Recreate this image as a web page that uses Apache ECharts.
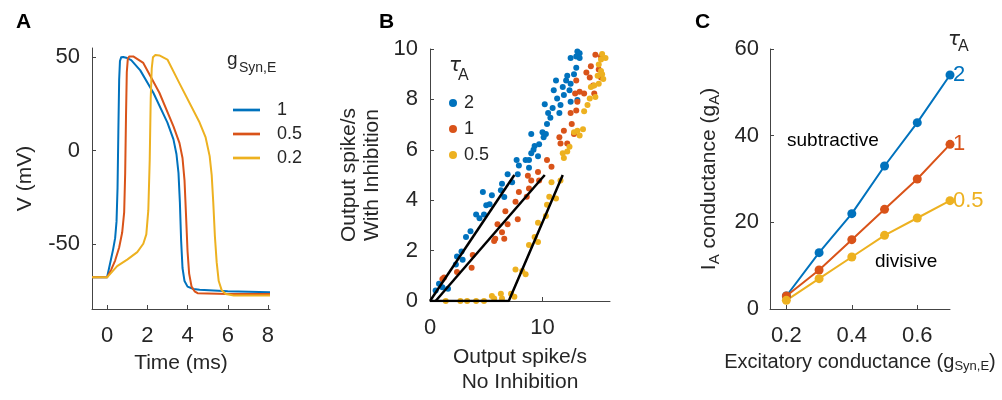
<!DOCTYPE html>
<html>
<head>
<meta charset="utf-8">
<script src="https://cdn.jsdelivr.net/npm/echarts@6/dist/echarts.min.js"></script>
<style>
  html, body { margin: 0; padding: 0; background: #fff; }
  #chart { width: 1002px; height: 400px; }
</style>
</head>
<body>
<div id="chart"></div>
<script>
// panel A: membrane voltage traces
const tG1 = [-0.75, 0, 0.1, 0.2, 0.3, 0.4, 0.47, 0.52, 0.56, 0.6, 0.64, 0.7, 0.8, 0.95, 1.2, 1.65, 2.3, 3.0, 3.3, 3.45, 3.55, 3.62, 3.68, 3.75, 3.85, 4.0, 4.3, 4.6, 6, 8.1]
const vG1 = [-68, -68, -63, -58, -53, -47, -38, -20, 10, 38, 48, 50, 50.2, 49.8, 48.5, 43, 31, 15, 6, -2, -12, -28, -48, -63, -70, -73, -74.3, -74.7, -75.5, -76]
const tG05 = [-0.75, 0, 0.2, 0.4, 0.6, 0.75, 0.85, 0.9, 0.94, 0.98, 1.03, 1.1, 1.3, 1.8, 2.6, 3.3, 3.6, 3.75, 3.85, 3.93, 4.0, 4.08, 4.2, 4.35, 4.5, 6, 8.1]
const vG05 = [-68, -68, -64, -59, -52, -44, -33, -12, 18, 42, 49, 50.5, 50.5, 47, 31, 13, 4, -4, -16, -36, -54, -66, -73, -75.5, -76.5, -77, -77]
const tG02 = [-0.75, 0, 0.5, 1.0, 1.5, 1.8, 1.95, 2.05, 2.12, 2.17, 2.22, 2.28, 2.4, 2.6, 3.0, 3.6, 4.6, 4.9, 5.1, 5.2, 5.28, 5.36, 5.45, 5.55, 5.7, 5.9, 6.3, 8.1]
const vG02 = [-68, -68, -62, -58.5, -54.5, -50, -45, -32, -5, 28, 44, 50, 51.2, 51, 48.8, 36, 15, 7, -3, -13, -28, -46, -60, -70, -75, -77, -77.7, -77.7]
const gLabels = ['1', '0.5', '0.2']
const timeTicks = [0, 2, 4, 6, 8]
const voltTicks = [-50, 0, 50]

// panel B: output rate with vs without inhibition
const rateTau2 = [[0.5, 0.42], [1.1, 0.55], [1.6, 0.49], [0.8, 0.68], [2.3, 1.45], [2.4, 1.77], [2.8, 1.96], [2.9, 1.64],
  [3.2, 2.54], [3.6, 2.77], [4.1, 3.43], [4.4, 3.28], [4.7, 4.33], [4.8, 3.43], [5.0, 3.8], [5.3, 3.84], [5.5, 4.2],
  [6.3, 4.39], [6.4, 4.65], [6.6, 4.13], [6.9, 5.03], [7.3, 4.71], [7.8, 5.03], [7.9, 5.38], [7.7, 5.6], [8.5, 5.6],
  [8.8, 5.29], [8.8, 5.6], [9.0, 5.86], [9.0, 6.63], [9.2, 6.0], [9.3, 6.15], [9.7, 6.22], [9.6, 5.74], [10.0, 6.7],
  [10.1, 6.5], [10.3, 6.63], [10.4, 7.02], [10.5, 7.46], [10.2, 7.81], [10.7, 7.27], [10.9, 7.66], [11.0, 8.36],
  [11.2, 8.75], [11.3, 8.04], [11.5, 7.46], [11.6, 7.78], [11.8, 8.49], [11.9, 8.17], [12.1, 8.75], [12.2, 8.94],
  [12.4, 8.36], [12.5, 7.91], [12.5, 8.62], [12.8, 9.0], [13.0, 9.26], [13.1, 9.9], [13.3, 9.83], [12.5, 9.64],
  [13.0, 9.7], [13.3, 9.64], [13.1, 7.98]]
const rateTau1 = [[1.1, 0.87], [1.25, 0.93], [2.4, 1.15], [3.7, 1.32], [3.8, 1.83], [5.7, 2.38], [5.8, 2.47], [6.0, 3.05],
  [6.4, 2.73], [6.6, 2.47], [6.7, 3.56], [6.9, 3.05], [7.6, 3.94], [7.8, 3.24], [7.9, 4.33], [8.6, 4.14], [8.8, 4.46],
  [8.7, 4.97], [9.0, 4.78], [9.6, 5.12], [9.7, 4.78], [10.4, 5.6], [10.8, 5.33], [11.5, 6.5], [11.6, 6.25], [11.9, 6.76],
  [12.2, 6.25], [12.5, 7.46], [12.6, 7.02], [12.8, 6.63], [12.9, 8.23], [13.1, 7.91], [13.0, 7.56], [13.3, 8.3],
  [13.7, 8.23], [13.9, 9.07], [14.2, 8.87], [14.3, 9.32], [14.5, 8.55], [14.6, 8.23], [14.7, 9.77], [15.2, 9.7],
  [15.0, 9.19], [15.2, 8.87], [13.0, 8.75]]
const rateTau05 = [[1.4, 0], [2.7, 0], [3.3, 0], [4.1, 0], [4.8, 0], [5.5, 0.2], [5.7, 0.1], [6.3, 0.29], [6.4, 0.1],
  [7.2, 0.29], [7.5, 0.17], [7.6, 1.25], [8.2, 1.19], [8.5, 1.06], [8.8, 2.22], [9.3, 2.54], [9.6, 2.34], [9.6, 3.11],
  [10.3, 3.37], [10.4, 3.82], [10.6, 4.14], [10.8, 4.71], [11.2, 4.07], [11.6, 4.78], [11.8, 5.86], [11.9, 5.67],
  [12.2, 5.93], [12.4, 6.12], [12.8, 6.7], [13.1, 6.76], [13.3, 6.57], [13.6, 6.82], [13.7, 7.53], [14.0, 7.78],
  [14.2, 8.04], [14.3, 8.49], [14.6, 8.55], [14.7, 8.1], [14.9, 8.94], [15.0, 8.62], [15.2, 9.13], [15.3, 9.0],
  [15.4, 8.81], [15.2, 9.58], [15.3, 9.8], [15.6, 9.64], [15.0, 9.38]]
const fitTau2 = [[0, 0], [7.5, 5]]
const fitTau1 = [[0.5, 0], [10.2, 5]]
const fitTau05 = [[0, 0], [7, 0], [11.8, 5]]
const tauLabels = ['2', '1', '0.5']
const rateXTicks = [0, 10]

// panel C: I_A conductance vs excitatory conductance
const gExc = [0.2, 0.3, 0.4, 0.5, 0.6, 0.7]
const gATau2 = [3, 13, 22, 33, 43, 54]
const gATau1 = [3, 9, 16, 23, 30, 38]
const gATau05 = [2, 7, 12, 17, 21, 25]
const gExcTicks = [0.2, 0.4, 0.6]

const colors = ['#0072BD', '#D95319', '#EDB120']
const ink = '#262626'
const font = 'Liberation Sans'

const chart = echarts.init(document.getElementById('chart'), null, { renderer: 'canvas' })

function axisBase(extra) {
  return Object.assign({
    type: 'value',
    splitLine: { show: false },
    axisLine: { show: true, onZero: false, lineStyle: { color: '#444', width: 1 } },
    axisTick: { show: true, inside: true, length: 4, lineStyle: { color: '#444' } },
    axisLabel: { color: ink, fontSize: 22, fontFamily: font },
    nameLocation: 'middle',
    nameTextStyle: { color: ink, fontSize: 21, fontFamily: font }
  }, extra)
}

const pair = (xs, ys) => xs.map((x, i) => [x, ys[i]])
const vTraces = [pair(tG1, vG1), pair(tG05, vG05), pair(tG02, vG02)]
const rates = [rateTau2, rateTau1, rateTau05]
const fits = [fitTau2, fitTau1, fitTau05]
const gA = [gATau2, gATau1, gATau05]

const series = []
vTraces.forEach((d, i) => {
  series.push({
    name: 'a:' + gLabels[i], type: 'line', xAxisIndex: 0, yAxisIndex: 0,
    data: d, symbol: 'none', smooth: false,
    lineStyle: { color: colors[i], width: 2, join: 'round' }, itemStyle: { color: colors[i] }
  })
})
rates.forEach((d, i) => {
  series.push({
    name: 'b:' + tauLabels[i], type: 'scatter', xAxisIndex: 1, yAxisIndex: 1,
    data: d, symbolSize: 6, itemStyle: { color: colors[i], opacity: 1 }
  })
})
fits.forEach((d) => {
  series.push({
    type: 'line', xAxisIndex: 1, yAxisIndex: 1, data: d, symbol: 'none',
    lineStyle: { color: '#000', width: 2.5 }, z: 5
  })
})
gA.forEach((d, i) => {
  series.push({
    type: 'line', xAxisIndex: 2, yAxisIndex: 2, data: pair(gExc, d),
    symbol: 'circle', symbolSize: 9,
    lineStyle: { color: colors[i], width: 2 }, itemStyle: { color: colors[i] },
    endLabel: { show: true, formatter: tauLabels[i], color: colors[i], fontSize: 22, fontFamily: font, distance: 3 }
  })
})

chart.setOption({
  animation: false,
  textStyle: { fontFamily: font },
  grid: [
    { left: 92, top: 48, width: 178, height: 261 },
    { left: 430, top: 49, width: 180, height: 260 },
    { left: 770, top: 49, width: 180, height: 260 }
  ],
  xAxis: [
    axisBase({
      gridIndex: 0, min: -0.75, max: 8.1, name: 'Time (ms)', nameGap: 44,
      axisLabel: { color: ink, fontSize: 22, fontFamily: font, margin: 16, customValues: timeTicks },
      axisTick: { show: true, inside: true, length: 4, lineStyle: { color: '#444' }, customValues: timeTicks }
    }),
    axisBase({
      gridIndex: 1, min: 0, max: 16, name: 'Output spike/s\nNo Inhibition', nameGap: 44,
      nameTextStyle: { color: ink, fontSize: 21, fontFamily: font, lineHeight: 25, verticalAlign: 'top' },
      axisLabel: { color: ink, fontSize: 22, fontFamily: font, margin: 16, customValues: rateXTicks },
      axisTick: { show: true, inside: true, length: 4, lineStyle: { color: '#444' }, customValues: rateXTicks }
    }),
    axisBase({
      gridIndex: 2, min: 0.15, max: 0.7, nameGap: 42,
      name: '{n|Excitatory conductance (g}{s|Syn,E}{n|)}',
      nameTextStyle: {
        color: ink, fontFamily: font,
        rich: { n: { fontSize: 20, color: ink }, s: { fontSize: 13, color: ink, padding: [9, 0, 0, 0] } }
      },
      axisLabel: { color: ink, fontSize: 22, fontFamily: font, margin: 16, customValues: gExcTicks },
      axisTick: { show: true, inside: true, length: 4, lineStyle: { color: '#444' }, customValues: gExcTicks }
    })
  ],
  yAxis: [
    axisBase({
      gridIndex: 0, min: -85, max: 55, name: 'V (mV)', nameGap: 56,
      axisLabel: { color: ink, fontSize: 22, fontFamily: font, margin: 12, customValues: voltTicks },
      axisTick: { show: true, inside: true, length: 4, lineStyle: { color: '#444' }, customValues: voltTicks }
    }),
    axisBase({
      gridIndex: 1, min: 0, max: 10, interval: 2, name: 'Output spike/s\nWith Inhibition', nameGap: 46,
      nameTextStyle: { color: ink, fontSize: 21, fontFamily: font, lineHeight: 23 },
      axisLabel: { color: ink, fontSize: 22, fontFamily: font, margin: 12 }
    }),
    axisBase({
      gridIndex: 2, min: 0, max: 60, interval: 20, nameGap: 48,
      name: '{n|I}{s|A}{n| conductance (g}{s|A}{n|)}',
      nameTextStyle: {
        color: ink, fontFamily: font,
        rich: { n: { fontSize: 21, color: ink }, s: { fontSize: 15, color: ink, padding: [10, 0, 0, 0] } }
      },
      axisLabel: { color: ink, fontSize: 22, fontFamily: font, margin: 11 }
    })
  ],
  legend: [
    {
      data: gLabels.map(n => 'a:' + n), orient: 'vertical', left: 228, top: 96,
      itemWidth: 27, itemHeight: 12, itemGap: 6, icon: 'path://M0,0H10V1H0Z',
      formatter: n => n.split(':')[1],
      textStyle: { color: ink, fontSize: 18, fontFamily: font, padding: [0, 0, 0, 12] }
    },
    {
      data: tauLabels.map(n => 'b:' + n), orient: 'vertical', left: 444, top: 89,
      itemWidth: 8, itemHeight: 8, itemGap: 8, icon: 'circle',
      formatter: n => n.split(':')[1],
      textStyle: { color: ink, fontSize: 18, fontFamily: font, padding: [0, 0, 0, 2] }
    }
  ],
  graphic: [
    { type: 'text', left: 16, top: 12, style: { text: 'A', font: 'bold 21px "Liberation Sans"', fill: '#000' } },
    { type: 'text', left: 379, top: 12, style: { text: 'B', font: 'bold 21px "Liberation Sans"', fill: '#000' } },
    { type: 'text', left: 695, top: 12, style: { text: 'C', font: 'bold 21px "Liberation Sans"', fill: '#000' } },
    { type: 'text', left: 227, top: 50, style: { text: 'g', font: '19px "Liberation Sans"', fill: ink } },
    { type: 'text', left: 239, top: 61, style: { text: 'Syn,E', font: '14px "Liberation Sans"', fill: ink } },
    { type: 'text', left: 449, top: 56, style: { text: 'τ', font: 'italic 20px "DejaVu Sans"', fill: ink } },
    { type: 'text', left: 458, top: 68, style: { text: 'A', font: '16px "Liberation Sans"', fill: ink } },
    { type: 'text', left: 948, top: 30, style: { text: 'τ', font: 'italic 20px "DejaVu Sans"', fill: ink } },
    { type: 'text', left: 958, top: 39, style: { text: 'A', font: '16px "Liberation Sans"', fill: ink } },
    { type: 'text', left: 787, top: 131, style: { text: 'subtractive', font: '19px "Liberation Sans"', fill: '#000' } },
    { type: 'text', left: 875, top: 252, style: { text: 'divisive', font: '19px "Liberation Sans"', fill: '#000' } }
  ],
  series: series
})
</script>
</body>
</html>
